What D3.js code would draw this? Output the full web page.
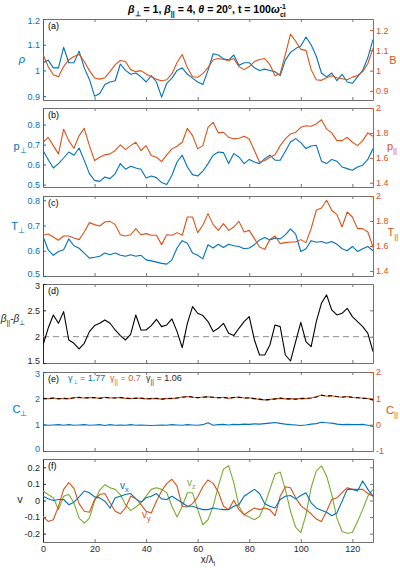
<!DOCTYPE html>
<html lang="en">
<head>
<meta charset="UTF-8">
<title>Plasma profiles</title>
<script src="https://d3js.org/d3.v7.min.js"></script>
<style>
  body { margin: 0; background: #fff; }
  svg { display: block; }
  text { font-family: "Liberation Sans", Arial, sans-serif; }
</style>
</head>
<body>
<script>
const width = 400, height = 568
const blue = "#0072BD", orange = "#D95319", green = "#77AC30", dark = "#262626", frame = "#707070"

// x grid (x / lambda_i), one sample every 2
const xGrid = d3.range(0, 129, 2)
const xTicks = [0, 20, 40, 60, 80, 100, 120]

// (a) density and field
const rho = [1.03,1.04,1.01,1.01,1.09,1.03,1.03,1.075,1.01,0.965,0.90,0.91,0.945,0.955,0.96,1.025,1.0,0.985,0.99,0.975,
  0.955,0.98,0.955,0.896,0.95,0.97,1.0,1.01,0.985,0.97,0.955,0.945,1.0,1.065,1.06,1.045,1.04,1.06,1.02,1.03,
  1.03,1.01,1.0,1.005,1.0,0.995,0.98,1.04,1.07,1.085,1.095,1.13,1.10,1.055,0.99,0.975,0.99,0.96,0.985,0.955,
  0.95,0.975,1.0,1.05,1.12]
const bField = [1.08,1.02,0.98,0.97,1.02,1.054,1.07,1.08,1.045,1.0,0.964,0.958,0.965,0.995,1.03,1.05,1.045,1.005,0.995,1.0,
  0.983,0.97,0.957,0.95,0.955,0.985,1.04,1.08,1.015,0.97,0.967,0.985,1.015,1.054,1.06,1.055,1.05,1.06,1.02,1.005,
  1.02,1.045,1.055,1.06,1.03,0.975,0.985,1.08,1.18,1.145,1.105,1.1,1.005,0.955,0.952,0.965,0.975,0.965,0.96,0.955,
  0.968,0.976,0.995,1.035,1.11]

// (b) pressures
const pPerp = [0.671,0.626,0.583,0.605,0.633,0.663,0.647,0.683,0.621,0.555,0.521,0.516,0.538,0.53,0.555,0.605,0.577,0.592,0.583,0.577,
  0.533,0.543,0.535,0.51,0.5,0.547,0.613,0.647,0.588,0.55,0.543,0.567,0.605,0.647,0.663,0.66,0.605,0.655,0.638,0.605,
  0.626,0.613,0.605,0.63,0.647,0.622,0.622,0.667,0.713,0.73,0.71,0.68,0.693,0.697,0.617,0.605,0.626,0.617,0.588,0.58,
  0.572,0.588,0.597,0.626,0.68]
const pPar = [1.725,1.765,1.698,1.632,1.83,1.738,1.677,1.778,1.837,1.698,1.578,1.605,1.624,1.632,1.659,1.704,1.666,1.698,1.725,1.659,
  1.698,1.618,1.605,1.57,1.624,1.672,1.693,1.725,1.837,1.778,1.672,1.698,1.845,1.885,1.8,1.805,1.765,1.752,1.757,1.773,
  1.752,1.659,1.565,1.578,1.605,1.624,1.698,1.752,1.792,1.805,1.845,1.858,1.853,1.872,1.906,1.832,1.8,1.738,1.738,1.765,
  1.725,1.698,1.738,1.8,1.773]

// (c) temperatures
const tPerp = [0.657,0.604,0.582,0.597,0.604,0.647,0.62,0.61,0.591,0.571,0.574,0.578,0.591,0.584,0.591,0.582,0.578,0.584,0.578,0.582,
  0.564,0.56,0.555,0.55,0.547,0.564,0.611,0.64,0.63,0.591,0.582,0.568,0.624,0.611,0.626,0.613,0.626,0.62,0.617,0.608,
  0.611,0.624,0.643,0.653,0.643,0.65,0.647,0.663,0.687,0.666,0.597,0.608,0.64,0.634,0.637,0.63,0.637,0.626,0.608,0.6,
  0.617,0.597,0.608,0.617,0.6]
const tPar = [1.686,1.696,1.672,1.646,1.68,1.68,1.664,1.651,1.712,1.787,1.771,1.76,1.792,1.797,1.771,1.69,1.68,1.69,1.739,1.69,
  1.699,1.686,1.686,1.611,1.69,1.686,1.707,1.686,1.832,1.832,1.707,1.766,1.859,1.771,1.725,1.779,1.725,1.752,1.797,1.712,
  1.725,1.659,1.592,1.573,1.653,1.68,1.619,1.627,1.632,1.632,1.651,1.627,1.739,1.886,1.904,1.966,1.886,1.851,1.752,1.872,
  1.832,1.739,1.739,1.712,1.592]

// (d) beta difference
const betaDiff = [1.842,2.159,2.412,2.254,2.476,1.937,1.874,1.766,1.874,2.096,2.21,2.254,2.318,2.254,2.127,2.02,1.937,2.045,2.412,2.127,
  2.127,2.21,2.33,2.191,2.222,2.336,2.096,1.792,2.254,2.571,2.444,2.4,2.286,2.096,2.159,2.254,2.064,2.02,2.159,2.286,
  2.381,1.937,1.652,1.652,1.842,2.222,2.191,1.652,1.538,1.906,2.273,1.906,1.81,2.286,2.634,2.793,2.507,2.412,2.444,2.539,
  2.381,2.286,2.191,2.064,1.716]
const betaRef = 2

// (e) CGL-type ratios
const cPerp = [1.0,0.98,0.99,1.0,0.98,1.0,0.98,0.99,1.0,0.98,0.99,1.0,0.97,1.0,0.98,0.99,0.98,1.0,0.98,0.99,
  0.98,0.97,0.98,0.99,0.98,1.0,0.99,0.98,1.0,0.99,0.98,1.0,1.07,0.98,1.0,1.01,0.99,1.01,1.0,1.02,
  1.01,1.03,1.02,1.04,1.06,1.08,1.05,1.02,1.0,0.99,0.97,0.99,1.02,1.04,1.09,1.07,1.06,1.02,1.0,1.01,
  1.0,1.0,1.01,0.98,0.93]
const cParA = [1.0,0.99,1.01,0.98,1.0,0.99,1.02,1.03,1.01,1.03,1.02,1.0,1.04,1.01,1.02,1.03,1.0,0.99,1.01,1.0,
  0.98,1.0,0.99,0.97,1.0,0.99,1.01,1.05,1.07,1.04,1.02,1.05,1.06,1.03,1.02,1.04,1.0,1.03,1.05,1.01,
  1.02,0.99,0.96,0.94,0.96,0.98,1.0,0.98,0.99,0.97,1.0,0.99,1.01,1.06,1.13,1.08,1.1,1.06,1.04,1.07,
  1.03,1.02,1.01,0.99,0.93]
const cParB = [1.0,0.98,1.01,0.99,1.0,0.98,1.02,1.04,1.01,1.02,1.03,1.0,1.03,1.02,1.01,1.03,1.01,0.99,1.0,1.01,
  0.98,0.99,1.0,0.97,0.99,1.0,1.01,1.04,1.07,1.05,1.02,1.04,1.06,1.04,1.02,1.03,1.01,1.03,1.04,1.01,
  1.01,0.99,0.97,0.94,0.95,0.98,1.01,0.98,0.98,0.97,0.99,1.0,1.01,1.05,1.12,1.09,1.1,1.07,1.05,1.06,
  1.04,1.02,1.0,0.99,0.94]
const gammaLabels = ["1.77", "0.7", "1.06"]

// (f) velocity components
const vx = [0.026,0.01,0.0,0.006,0.006,-0.025,-0.01,0.022,0.057,0.047,0.022,0.016,-0.004,-0.045,0.016,0.026,0.036,0.042,0.01,-0.01,
  0.016,0.026,0.042,0.01,0.006,0.026,0.006,-0.014,-0.035,-0.035,-0.045,-0.055,-0.055,-0.045,-0.051,-0.055,-0.055,-0.035,-0.025,0.026,
  0.047,0.067,0.042,-0.019,-0.035,-0.045,0.006,0.026,0.03,0.01,0.03,0.047,-0.014,-0.045,-0.059,-0.071,-0.092,-0.075,-0.004,0.067,
  0.067,0.057,0.118,0.067,0.026]
const vy = [-0.096,-0.126,-0.116,-0.035,0.067,0.108,0.073,-0.019,-0.065,-0.071,0.006,0.036,0.042,-0.014,-0.065,-0.08,-0.045,0.026,0.012,-0.025,
  -0.065,-0.075,-0.004,0.057,0.103,0.128,0.087,-0.035,-0.039,-0.019,0.022,0.083,0.124,0.103,0.051,-0.035,-0.055,0.002,-0.055,-0.086,
  -0.065,-0.045,-0.055,-0.045,-0.055,-0.092,0.026,0.083,0.077,0.016,-0.031,-0.055,-0.08,-0.112,-0.126,-0.065,0.006,0.016,0.047,0.077,
  0.067,0.067,0.067,0.042,0.026]
const vz = [0.057,0.036,0.016,-0.055,0.026,0.036,-0.014,-0.106,-0.136,-0.106,-0.004,0.063,0.095,0.077,0.067,0.036,-0.025,-0.061,-0.039,-0.014,
  0.026,0.067,0.077,0.067,0.047,-0.035,-0.1,-0.035,0.047,0.047,-0.055,-0.146,-0.116,-0.035,0.087,0.189,0.209,0.108,-0.035,-0.086,
  -0.1,-0.116,-0.096,-0.025,0.067,0.158,0.172,0.067,-0.065,-0.161,-0.193,-0.086,0.077,0.179,0.209,0.148,0.036,-0.106,-0.187,-0.197,
  -0.193,-0.126,-0.055,0.026,0.067]

const svg = d3.select("body").append("svg")
  .attr("width", width).attr("height", height)
  .attr("viewBox", `0 0 ${width} ${height}`)

const x = d3.scaleLinear().domain([0, 128]).range([43, 373])

const panels = [
  {tag: "(a)", top: 19, bottom: 100,
   left: {dom: [0.885, 1.2], ticks: [0.9, 1, 1.1, 1.2], color: blue},
   right: {dom: [0.855, 1.255], ticks: [0.9, 1, 1.1, 1.2], color: orange},
   lines: [{v: rho, side: "left", color: blue}, {v: bField, side: "right", color: orange}]},
  {tag: "(b)", top: 108, bottom: 187,
   left: {dom: [0.488, 0.883], ticks: [0.5, 0.6, 0.7, 0.8], color: blue},
   right: {dom: [1.366, 2], ticks: [1.4, 1.6, 1.8, 2], color: orange},
   lines: [{v: pPerp, side: "left", color: blue}, {v: pPar, side: "right", color: orange}]},
  {tag: "(c)", top: 196, bottom: 276,
   left: {dom: [0.5, 0.817], ticks: [0.5, 0.6, 0.7, 0.8], color: blue},
   right: {dom: [1.36, 2], ticks: [1.4, 1.6, 1.8, 2], color: orange},
   lines: [{v: tPerp, side: "left", color: blue}, {v: tPar, side: "right", color: orange}]},
  {tag: "(d)", top: 284, bottom: 363,
   left: {dom: [1.5, 3], ticks: [1.5, 2, 2.5, 3], color: dark},
   right: {dom: [1.5, 3], ticks: [1.5, 2, 2.5, 3], color: frame, noLabels: true},
   lines: [{v: betaDiff, side: "left", color: "#000"}]},
  {tag: "(e)", top: 372, bottom: 451,
   left: {dom: [0, 3], ticks: [0, 1, 2, 3], color: blue},
   right: {dom: [-1, 2], ticks: [-1, 0, 1, 2], color: orange},
   lines: [{v: cPerp, side: "left", color: blue}, {v: cParA, side: "right", color: orange},
           {v: cParB, side: "right", color: "#000", dash: "4,3"}]},
  {tag: "(f)", top: 459, bottom: 542, xLabels: true,
   left: {dom: [-0.25, 0.25], ticks: [-0.2, -0.1, 0, 0.1, 0.2], color: dark},
   right: {dom: [-0.25, 0.25], ticks: [-0.2, -0.1, 0, 0.1, 0.2], color: frame, noLabels: true},
   lines: [{v: vz, side: "left", color: green}, {v: vy, side: "left", color: orange}, {v: vx, side: "left", color: blue}]}
]

function styleAxis(g, color, labels) {
  g.attr("font-size", 9).attr("font-family", "'Liberation Sans', Arial, sans-serif")
  g.select(".domain").attr("stroke", color).attr("stroke-width", 1)
  g.selectAll(".tick line").attr("stroke", color)
  g.selectAll(".tick text").attr("fill", color)
  if (!labels) g.selectAll(".tick text").remove()
}

panels.forEach((p, i) => {
  const g = svg.append("g").attr("class", "panel")
  const yL = d3.scaleLinear().domain(p.left.dom).range([p.bottom, p.top])
  const yR = d3.scaleLinear().domain(p.right.dom).range([p.bottom, p.top])

  // box top / bottom with inward x ticks
  g.append("g").attr("transform", `translate(0,${p.bottom})`)
    .call(d3.axisBottom(x).tickValues(xTicks).tickSize(-3).tickSizeOuter(0).tickPadding(4).tickFormat(d => String(d)))
    .call(a => styleAxis(a, frame, !!p.xLabels))
    .call(a => a.selectAll(".tick text").attr("fill", dark))
  g.append("g").attr("transform", `translate(0,${p.top})`)
    .call(d3.axisTop(x).tickValues(xTicks).tickSize(-3).tickSizeOuter(0))
    .call(a => styleAxis(a, frame, false))

  const leftAxis = g.append("g").attr("transform", `translate(${x.range()[0]},0)`)
    .call(d3.axisLeft(yL).tickValues(p.left.ticks).tickSize(-3).tickSizeOuter(0).tickPadding(3).tickFormat(d => String(d)))
    .call(a => styleAxis(a, p.left.color, true))
  g.append("g").attr("transform", `translate(${x.range()[1]},0)`)
    .call(d3.axisRight(yR).tickValues(p.right.ticks).tickSize(-3).tickSizeOuter(0).tickPadding(3).tickFormat(d => String(d)))
    .call(a => styleAxis(a, p.right.color, !p.right.noLabels))

  // the end labels of stacked panels touch each other, nudge them apart a little
  const dom = p.left.dom
  leftAxis.selectAll(".tick text")
    .attr("dy", d => d === dom[0] ? "0.1em" : d === dom[1] ? "0.5em" : "0.32em")

  const clipId = "clip" + i
  g.append("clipPath").attr("id", clipId).append("rect")
    .attr("x", x.range()[0]).attr("y", p.top).attr("width", x.range()[1] - x.range()[0]).attr("height", p.bottom - p.top)

  if (p.tag === "(d)") {
    g.append("line").attr("x1", x(0)).attr("x2", x(128)).attr("y1", yL(betaRef)).attr("y2", yL(betaRef))
      .attr("stroke", "#8c8c8c").attr("stroke-width", 1).attr("stroke-dasharray", "6,4")
  }

  p.lines.forEach(s => {
    const yS = s.side === "left" ? yL : yR
    const line = d3.line().x((d, j) => x(xGrid[j])).y(d => yS(d))
    g.append("path").datum(s.v)
      .attr("clip-path", `url(#${clipId})`)
      .attr("fill", "none").attr("stroke", s.color).attr("stroke-width", 1.1)
      .attr("stroke-dasharray", s.dash || null)
      .attr("stroke-linejoin", "round")
      .attr("d", line)
  })

  g.append("text").attr("x", 48).attr("y", p.top + 10).attr("font-size", 9).attr("fill", "#000").text(p.tag)
})

// label helper: base text with optional sub parts
function label(x0, y0, parts, color, size, anchor) {
  const t = svg.append("text").attr("x", x0).attr("y", y0).attr("font-size", size)
    .attr("fill", color).attr("text-anchor", anchor || "start")
  parts.forEach(pt => {
    const ts = t.append("tspan").text(pt.t)
    if (pt.sub) ts.attr("font-size", size * 0.72).attr("dy", 3)
    if (pt.it) ts.attr("font-style", "italic")
    if (pt.dy) ts.attr("dy", pt.dy)
  })
  return t
}

// y labels
label(22, 63, [{t: "ρ", it: true}], blue, 11, "middle")
label(20, 150, [{t: "p"}, {t: "⊥", sub: true}], blue, 11, "middle")
label(18, 230, [{t: "T"}, {t: "⊥", sub: true}], blue, 11, "middle")
label(13, 322, [{t: "β", it: true}, {t: "||", sub: true}, {t: "-", dy: -3}, {t: "β", it: true}, {t: "⊥", sub: true}], dark, 10, "middle")
label(20, 413, [{t: "C"}, {t: "⊥", sub: true}], blue, 11, "middle")
label(20, 503, [{t: "v"}], dark, 11, "middle")

label(393, 64, [{t: "B"}], orange, 11, "middle")
label(392, 150, [{t: "p"}, {t: "||", sub: true}], orange, 11, "middle")
label(393, 236, [{t: "T"}, {t: "||", sub: true}], orange, 11, "middle")
label(392, 414, [{t: "C"}, {t: "||", sub: true}], orange, 11, "middle")

// gamma values in panel (e)
label(68, 381, [{t: "γ"}, {t: "⊥", sub: true}, {t: " = " + gammaLabels[0], dy: -3}], blue, 9)
label(110, 381, [{t: "γ"}, {t: "||", sub: true}, {t: " = " + gammaLabels[1], dy: -3}], orange, 9)
label(146, 381, [{t: "γ"}, {t: "||", sub: true}, {t: " = " + gammaLabels[2], dy: -3}], dark, 9)

// component names in panel (f)
label(120, 489, [{t: "v"}, {t: "x", sub: true}], blue, 10)
label(142, 518, [{t: "v"}, {t: "y", sub: true}], orange, 10)
label(187, 486, [{t: "v"}, {t: "z", sub: true}], green, 10)

// x axis title
label(208, 563, [{t: "x/"}, {t: "λ"}, {t: "i", sub: true}], dark, 10, "middle")

// figure title
const title = svg.append("text").attr("x", 207).attr("y", 13).attr("text-anchor", "middle")
  .attr("font-size", 10.5).attr("font-weight", "bold").attr("fill", "#000")
title.append("tspan").attr("font-style", "italic").text("β")
title.append("tspan").attr("font-size", 7).attr("dy", 3).text("⊥")
title.append("tspan").attr("dy", -3).text(" = 1, ")
title.append("tspan").attr("font-style", "italic").text("β")
title.append("tspan").attr("font-size", 7).attr("dy", 3).text("||")
title.append("tspan").attr("dy", -3).text(" = 4, ")
title.append("tspan").attr("font-style", "italic").text("θ")
title.append("tspan").text(" = 20°, t = 100")
title.append("tspan").attr("font-style", "italic").text("ω")
title.append("tspan").attr("font-size", 7).attr("dy", -4).text("-1")
title.append("tspan").attr("font-size", 7).attr("dx", -6).attr("dy", 8).text("ci")
</script>
</body>
</html>
